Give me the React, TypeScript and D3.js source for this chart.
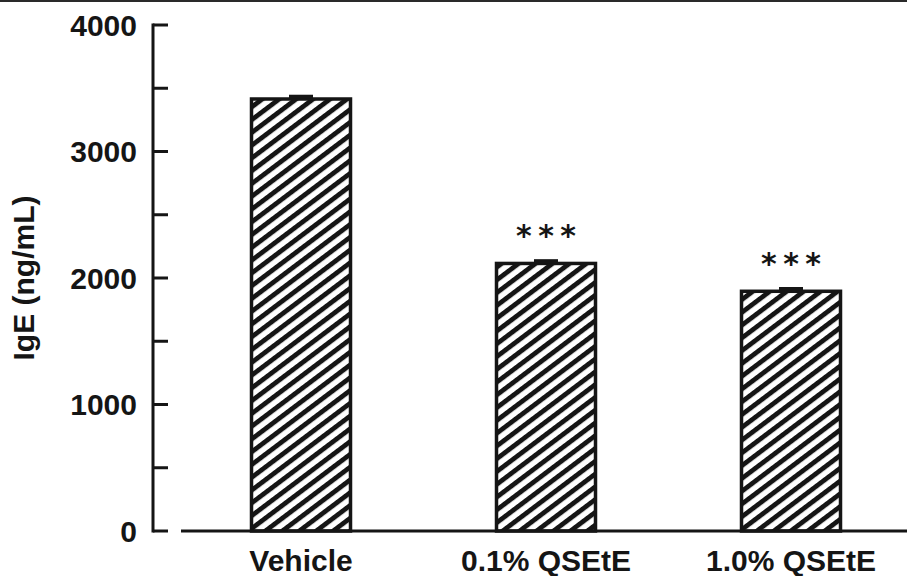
import React from 'react';
import * as d3 from 'd3';

// Data
const categories = ['Vehicle', '0.1% QSEtE', '1.0% QSEtE'];
const igeValues = [3415, 2115, 1895];
const igeErrors = [18, 18, 18];
const significance = ['', '***', '***'];
const yTicks = [0, 500, 1000, 1500, 2000, 2500, 3000, 3500, 4000];
const yTickLabels = ['0', '', '1000', '', '2000', '', '3000', '', '4000'];

const W = 907;
const H = 576;
const FONT = '"Liberation Sans", Arial, Helvetica, sans-serif';
const INK = '#151515';

const App: React.FC = () => {
  const axisX = 153;
  const y = d3.scaleLinear().domain([0, 4000]).range([531, 25]);
  const x = d3.scalePoint<string>().domain(categories).range([301, 791]);
  const barWidth = 99;
  const starSpacing = 6.5;

  return (
    <div style={{ position: 'absolute', left: 0, top: 0 }}>
      <svg width={W} height={H} style={{ display: 'block', background: '#fff' }}>
        <defs>
          <pattern
            id="hatch"
            patternUnits="userSpaceOnUse"
            width={10}
            height={10.2}
            patternTransform="rotate(-37)"
          >
            <rect x={0} y={0} width={10} height={10.2} fill="#fff" />
            <rect x={0} y={0} width={10} height={4.8} fill={INK} />
          </pattern>
        </defs>

        {/* frame line at the very top */}
        <line x1={0} x2={W} y1={1} y2={1} stroke="#2a2a2a" strokeWidth={2} />

        {/* bars */}
        {categories.map((c, i) => {
          const cx = x(c)!;
          const top = y(igeValues[i]);
          const errTop = y(igeValues[i] + igeErrors[i]);
          return (
            <g key={c}>
              <rect
                x={cx - barWidth / 2}
                y={top}
                width={barWidth}
                height={y(0) - top}
                fill="url(#hatch)"
                stroke={INK}
                strokeWidth={3.5}
              />
              {/* error bar (SEM) */}
              <line x1={cx} x2={cx} y1={top} y2={errTop} stroke={INK} strokeWidth={3} />
              <line x1={cx - 12} x2={cx + 12} y1={errTop} y2={errTop} stroke={INK} strokeWidth={4} />
              {significance[i] && (
                <text
                  x={cx + starSpacing / 2}
                  y={errTop - 15}
                  textAnchor="middle"
                  fontFamily='"DejaVu Sans", sans-serif'
                  fontWeight="bold"
                  fontSize={30}
                  letterSpacing={starSpacing}
                  fill={INK}
                >
                  {significance[i]}
                </text>
              )}
              <text
                x={cx}
                y={571}
                textAnchor="middle"
                fontFamily={FONT}
                fontWeight="bold"
                fontSize={30}
                fill={INK}
              >
                {c}
              </text>
            </g>
          );
        })}

        {/* x axis baseline, detached from the y axis */}
        <line x1={181} x2={W} y1={y(0)} y2={y(0)} stroke={INK} strokeWidth={3} />

        {/* y axis */}
        <line x1={axisX} x2={axisX} y1={y(4000) - 1.5} y2={y(0) + 1.5} stroke={INK} strokeWidth={3} />
        {yTicks.map((t, i) => (
          <g key={t}>
            <line x1={axisX} x2={axisX + 15} y1={y(t)} y2={y(t)} stroke={INK} strokeWidth={3} />
            {yTickLabels[i] && (
              <text
                x={137}
                y={y(t)}
                dy="0.36em"
                textAnchor="end"
                fontFamily={FONT}
                fontWeight="bold"
                fontSize={30}
                fill={INK}
              >
                {yTickLabels[i]}
              </text>
            )}
          </g>
        ))}

        {/* y axis title */}
        <text
          transform={`translate(34, ${(y(0) + y(4000)) / 2}) rotate(-90)`}
          textAnchor="middle"
          fontFamily={FONT}
          fontWeight="bold"
          fontSize={30}
          fill={INK}
        >
          IgE (ng/mL)
        </text>
      </svg>
    </div>
  );
};

export default App;
